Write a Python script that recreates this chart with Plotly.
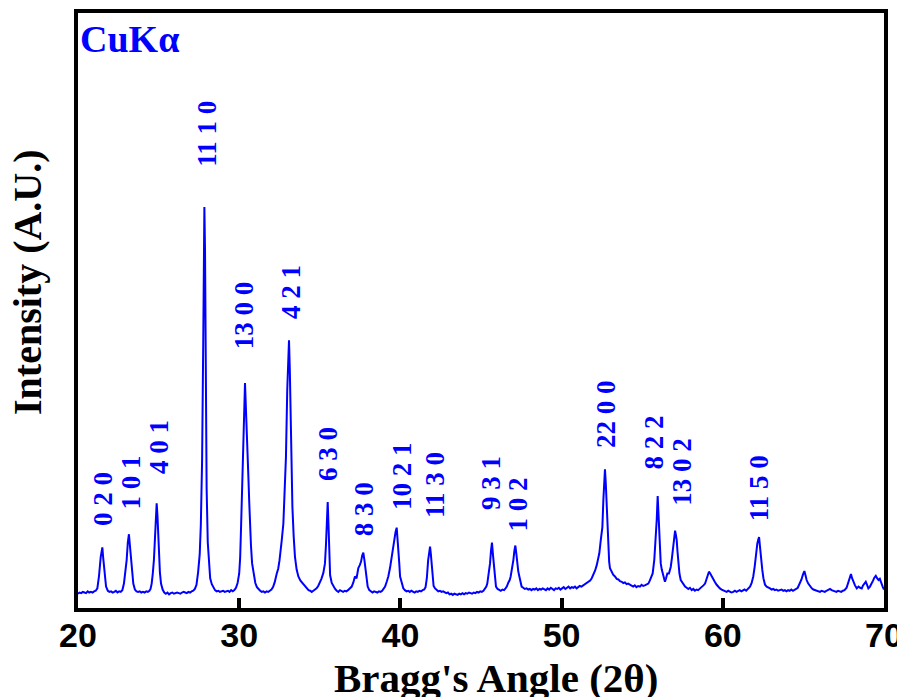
import plotly.graph_objects as go

# ---- XRD pattern (2-theta in degrees, intensity in arbitrary units) ----
two_theta = [
    20.0, 20.1, 20.2, 20.3, 20.4, 20.5, 20.6, 20.7, 20.8, 20.9, 21.0, 21.1,
    21.2, 21.3, 21.41, 21.46, 21.51, 21.56, 21.63, 21.74, 21.85,
    21.95, 22.05, 22.15, 22.25, 22.35, 22.45, 22.55, 22.65, 22.75,
    22.85, 22.94, 23.02, 23.09, 23.16, 23.22, 23.29, 23.36, 23.43, 23.53,
    23.63, 23.73, 23.83, 23.93, 24.03, 24.13, 24.23, 24.33, 24.43, 24.5,
    24.57, 24.64, 24.71, 24.78, 24.84, 24.88, 24.93, 24.97, 25.02, 25.08, 25.15, 25.25,
    25.35, 25.45, 25.55, 25.65, 25.75, 25.85, 25.95, 26.05, 26.15, 26.25, 26.35, 26.45,
    26.55, 26.65, 26.75, 26.85, 26.95, 27.05, 27.15, 27.25, 27.35,
    27.45, 27.55, 27.62, 27.7, 27.77, 27.84, 27.88, 27.93, 27.98, 28.05, 28.12, 28.2, 28.3, 28.4,
    28.5, 28.6, 28.7, 28.8, 28.9, 29.0, 29.1, 29.2, 29.3, 29.4, 29.5, 29.6,
    29.7, 29.8, 29.9, 30.0, 30.06, 30.12, 30.19, 30.26, 30.32, 30.36, 30.41, 30.46,
    30.52, 30.57, 30.62, 30.67, 30.73, 30.8, 30.9, 31.0, 31.1, 31.2, 31.3,
    31.4, 31.5, 31.6, 31.7, 31.8, 31.9, 32.0, 32.1, 32.2, 32.33, 32.42, 32.5,
    32.57, 32.64, 32.74, 32.82, 32.9, 32.98, 33.04, 33.09, 33.14, 33.19, 33.25, 33.3,
    33.38, 33.46, 33.56, 33.67, 33.8, 33.9, 33.98, 34.1, 34.2, 34.3, 34.4,
    34.5, 34.6, 34.7, 34.8, 34.9, 35.0, 35.1, 35.22, 35.32,
    35.38, 35.44, 35.49, 35.54, 35.59, 35.64, 35.74, 35.84, 35.95,
    36.05, 36.15, 36.25, 36.35, 36.45, 36.55, 36.65, 36.75, 36.85, 36.98,
    37.08, 37.18, 37.28, 37.39, 37.48, 37.56, 37.63, 37.7, 37.77, 37.84, 37.9, 37.97,
    38.07, 38.17, 38.27, 38.37, 38.47, 38.57, 38.67, 38.77, 38.87, 38.97,
    39.05, 39.15, 39.25, 39.36, 39.46, 39.55, 39.62, 39.7, 39.77, 39.82, 39.87, 39.93, 39.98, 40.08, 40.18,
    40.28, 40.38, 40.48, 40.58, 40.68, 40.78, 40.88, 40.98, 41.08, 41.18, 41.28, 41.38, 41.48,
    41.56, 41.64, 41.72, 41.79, 41.84, 41.89, 41.94, 42.0, 42.06, 42.15, 42.25,
    42.35, 42.45, 42.55, 42.65, 42.75, 42.85, 42.95, 43.05, 43.15, 43.25, 43.35, 43.45,
    43.55, 43.65, 43.75, 43.85, 43.95, 44.05, 44.15, 44.25, 44.35, 44.45, 44.55, 44.65,
    44.75, 44.85, 44.95, 45.05, 45.15, 45.25, 45.33, 45.39, 45.47, 45.56, 45.62, 45.68,
    45.74, 45.81, 45.87, 45.93, 46.03, 46.13, 46.23, 46.33, 46.43, 46.52, 46.6,
    46.7, 46.78, 46.84, 46.92, 47.01, 47.07, 47.13, 47.19, 47.25, 47.31, 47.38, 47.45, 47.52,
    47.62, 47.72, 47.83, 47.93, 48.03, 48.13, 48.23, 48.33, 48.43, 48.53, 48.63, 48.73,
    48.83, 48.93, 49.03, 49.13, 49.23, 49.33, 49.43, 49.53, 49.63, 49.73, 49.83, 49.93,
    50.03, 50.13, 50.23, 50.33, 50.43, 50.53, 50.63, 50.73, 50.83, 50.93, 51.03, 51.13,
    51.23, 51.33, 51.43, 51.53, 51.66, 51.77, 51.87, 51.97, 52.08, 52.18, 52.26, 52.34,
    52.43, 52.53, 52.59, 52.65, 52.69, 52.74, 52.8, 52.85, 52.9, 52.95, 53.0, 53.1,
    53.2, 53.31, 53.42, 53.52, 53.62, 53.73, 53.83, 53.93, 54.03, 54.13, 54.24, 54.34,
    54.44, 54.54, 54.64, 54.75, 54.86, 54.96, 55.06, 55.16, 55.27, 55.38, 55.47, 55.56,
    55.65, 55.75, 55.84, 55.9, 55.96, 56.0, 56.04, 56.1, 56.15, 56.21, 56.27, 56.34, 56.41, 56.48, 56.56,
    56.66, 56.77, 56.84, 56.9, 56.97, 57.04, 57.09, 57.14, 57.19, 57.24, 57.31, 57.39, 57.5, 57.58, 57.66,
    57.76, 57.86, 57.96, 58.07, 58.17, 58.27, 58.37, 58.47, 58.59, 58.7, 58.8, 58.9,
    58.98, 59.06, 59.14, 59.22, 59.31, 59.4, 59.5, 59.62, 59.72, 59.82, 59.93, 60.03,
    60.13, 60.24, 60.34, 60.44, 60.54, 60.65, 60.75, 60.85, 60.95, 61.05, 61.15, 61.25,
    61.35, 61.45, 61.55, 61.69, 61.79, 61.89, 61.98, 62.06, 62.14, 62.2, 62.25, 62.3,
    62.35, 62.4, 62.45, 62.52, 62.62, 62.72, 62.83, 62.93, 63.03, 63.13, 63.23, 63.33,
    63.43, 63.55, 63.65, 63.75, 63.85, 63.95, 64.05, 64.15, 64.25, 64.35, 64.45, 64.55,
    64.65, 64.79, 64.88, 64.97, 65.06, 65.13, 65.2, 65.3, 65.41, 65.52, 65.62, 65.72,
    65.82, 65.92, 66.03, 66.13, 66.23, 66.33, 66.43, 66.55, 66.65, 66.75, 66.85, 66.95,
    67.05, 67.15, 67.25, 67.35, 67.45, 67.55, 67.68, 67.79, 67.87, 67.95, 68.02, 68.1,
    68.2, 68.31, 68.42, 68.52, 68.62, 68.7, 68.79, 68.87, 68.95, 69.03, 69.13, 69.24,
    69.32, 69.4, 69.49, 69.57, 69.66, 69.74, 69.81, 69.87, 69.93, 70.0,
]

intensity = [
    2.4, 2.6, 2.5, 2.7, 2.6, 2.5, 2.8, 2.6, 2.7, 2.6, 2.8, 2.9,
    3.3, 5.3, 8.6, 9.8, 10.2, 8.5, 6.9, 3.6, 2.9,
    2.7, 2.8, 2.6, 2.7, 2.9, 2.6, 2.8, 2.7, 3.0,
    4.1, 5.8, 8.1, 11.0, 12.4, 10.5, 8.1, 5.8, 4.1, 3.1,
    2.8, 2.7, 2.8, 2.6, 2.7, 2.6, 2.8, 2.7, 2.9, 3.2,
    4.1, 5.8, 8.1, 12.0, 16.0, 17.6, 15.5, 12.0, 9.2, 6.0, 4.1, 3.1,
    2.6, 2.4, 2.6, 2.3, 2.5, 2.6, 2.4, 2.5, 2.6, 2.5, 2.4, 2.6,
    2.7, 2.6, 2.5, 2.7, 2.6, 2.8, 2.9, 3.2, 3.9,
    6.0, 9.0, 14.0, 25.0, 45.0, 67.4, 60.0, 35.0, 20.0, 11.0, 7.0, 5.0, 4.0, 3.4,
    3.0, 2.8, 2.9, 2.7, 2.8, 2.9, 2.7, 2.8, 2.9, 2.7, 3.0, 2.8,
    3.0, 3.4, 4.2, 5.8, 8.5, 14.0, 22.0, 31.0, 37.0, 37.8, 34.0, 29.0,
    24.0, 22.0, 18.0, 14.0, 10.5, 7.5, 5.5, 4.2, 3.5, 3.1, 2.9,
    2.7, 2.8, 2.6, 2.8, 2.7, 2.9, 3.1, 3.5, 4.3, 5.8, 6.6, 8.0,
    9.5, 11.4, 14.2, 19.0, 25.4, 36.6, 42.0, 45.0, 40.0, 31.0, 22.0, 17.0,
    12.0, 8.6, 6.5, 5.3, 4.6, 4.3, 4.1, 3.6, 3.3, 3.0, 2.9,
    2.7, 2.9, 3.1, 3.3, 3.7, 4.2, 4.9, 5.9, 7.5,
    10.5, 15.0, 17.8, 14.0, 8.5, 5.5, 4.2, 3.6, 3.2,
    2.9, 2.7, 3.0, 2.8, 2.7, 2.9, 2.8, 3.0, 3.2, 3.6,
    4.3, 5.3, 5.0, 6.7, 7.2, 7.8, 8.8, 9.3, 8.0, 6.4, 4.6, 3.6,
    3.0, 2.8, 2.6, 2.8, 2.7, 2.6, 2.8, 2.7, 2.9, 3.2,
    3.6, 4.4, 5.3, 6.8, 8.6, 10.5, 12.0, 12.8, 13.5, 12.0, 10.3, 7.5, 5.3, 4.0, 3.3,
    3.0, 2.8, 2.9, 2.7, 2.9, 2.8, 2.6, 2.8, 2.7, 2.9, 2.8, 3.0, 3.1,
    3.5, 5.0, 8.0, 9.8, 10.3, 9.0, 6.9, 4.6, 3.7, 3.3, 3.0,
    2.8, 2.9, 2.7, 2.8, 2.6, 2.5, 2.6, 2.3, 2.4, 2.2, 2.4, 2.3,
    2.2, 2.4, 2.3, 2.5, 2.3, 2.5, 2.4, 2.6, 2.5, 2.4, 2.6, 2.5,
    2.7, 2.6, 2.8, 2.7, 2.9, 3.3, 3.6, 4.1, 5.5, 7.5, 9.6, 11.0,
    9.0, 6.4, 4.6, 3.6, 3.2, 3.0, 2.9, 3.1, 3.0, 3.3, 3.6,
    4.3, 4.7, 5.3, 6.4, 8.1, 9.6, 10.5, 9.2, 7.5, 6.2, 5.3, 4.3, 3.6,
    3.4, 3.2, 3.3, 3.1, 3.2, 3.0, 3.2, 3.1, 3.3, 3.0, 3.2, 3.1,
    3.3, 3.2, 3.0, 3.3, 3.1, 3.4, 3.2, 3.0, 3.3, 3.2, 3.4, 3.1,
    3.3, 3.5, 3.2, 3.4, 3.6, 3.3, 3.5, 3.4, 3.6, 3.3, 3.5, 3.7,
    3.6, 3.8, 3.9, 4.1, 4.4, 4.6, 5.0, 5.5, 6.3, 7.2, 8.0, 9.2,
    11.4, 13.6, 18.1, 22.0, 23.3, 21.0, 17.0, 13.0, 9.7, 7.8, 6.7, 6.0,
    5.6, 5.3, 4.9, 4.8, 4.5, 4.4, 4.2, 4.3, 4.0, 4.1, 3.9, 3.8,
    3.6, 3.8, 3.5, 3.7, 3.6, 3.9, 3.7, 3.8, 4.0, 4.1, 4.6, 5.2,
    5.8, 8.1, 11.4, 14.8, 18.8, 16.0, 13.1, 10.0, 7.5, 6.5, 5.8, 5.0, 4.4, 5.0, 5.8,
    5.8, 6.9, 8.3, 9.7, 11.8, 13.0, 12.3, 11.4, 9.5, 7.5, 5.8, 4.7, 4.2, 3.9, 3.6,
    3.4, 3.2, 3.4, 3.0, 3.2, 2.9, 3.1, 3.0, 3.3, 3.5, 3.8, 4.1,
    4.8, 5.6, 6.1, 5.8, 5.3, 5.0, 4.4, 3.9, 3.5, 3.3, 3.1, 3.0,
    2.8, 2.7, 2.9, 2.8, 2.6, 2.7, 2.9, 2.7, 2.8, 3.0, 2.8, 2.9,
    3.1, 2.9, 3.2, 3.6, 4.2, 5.3, 7.0, 9.2, 10.8, 11.5, 11.9, 10.5,
    8.6, 7.2, 6.4, 5.0, 3.9, 3.6, 3.5, 3.3, 3.1, 3.2, 3.0, 3.1,
    2.9, 3.0, 3.1, 2.9, 3.0, 2.8, 3.0, 2.9, 3.1, 2.9, 3.0, 3.2,
    3.4, 4.1, 4.8, 5.6, 6.2, 5.5, 4.7, 4.1, 3.6, 3.3, 3.1, 3.0,
    2.9, 2.8, 2.7, 2.9, 2.8, 2.7, 2.9, 3.0, 3.2, 3.0, 2.9, 2.8,
    2.7, 2.9, 2.8, 2.7, 2.9, 3.0, 3.4, 4.4, 5.2, 5.7, 5.0, 4.4,
    3.8, 3.3, 3.6, 3.4, 3.3, 3.8, 4.1, 4.4, 3.9, 3.3, 3.6, 4.1,
    4.6, 5.1, 5.4, 5.0, 4.7, 4.9, 4.3, 3.9, 3.5, 3.1,
]

# ---- reflection (hkl) labels ----
peak_labels = ["0 2 0", "1 0 1", "4 0 1", "11 1 0", "13 0 0", "4 2 1", "6 3 0", "8 3 0",
               "10 2 1", "11 3 0", "9 3 1", "1 0 2", "22 0 0", "8 2 2", "13 0 2", "11 5 0"]
label_theta = [21.55, 23.26, 25.07, 28.0, 30.30, 33.24, 35.54, 37.71,
               40.10, 42.18, 45.62, 47.30, 52.75, 55.73, 57.50, 62.21]
label_level = [18.3, 21.0, 27.0, 79.7, 49.2, 53.2, 25.8, 16.7,
               22.2, 20.6, 21.0, 17.4, 32.6, 27.8, 22.8, 20.2]

x_ticks = [20, 30, 40, 50, 60, 70]

assert len(two_theta) == len(intensity)

BLUE = "#0000FF"
SERIF = "Liberation Serif, Times New Roman, serif"
SANS = "Liberation Sans, Arial, sans-serif"

fig = go.Figure()
fig.add_trace(go.Scatter(x=two_theta, y=intensity, mode="lines",
                         line=dict(color=BLUE, width=2), hoverinfo="skip"))

annotations = []
for lab, lx, ly in zip(peak_labels, label_theta, label_level):
    annotations.append(dict(x=lx, y=ly, xref="x", yref="y", text="<b>" + lab + "</b>",
                            textangle=-90, showarrow=False, xanchor="center", yanchor="middle",
                            font=dict(family=SERIF, size=27, color=BLUE)))

annotations.append(dict(x=0.0, y=0.995, xref="paper", yref="paper", text="<b>CuKα</b>",
                        showarrow=False, xanchor="left", yanchor="top",
                        font=dict(family=SERIF, size=38, color=BLUE)))
annotations.append(dict(x=0.5186, y=-0.076, xref="paper", yref="paper",
                        text="<b>Bragg's Angle (2θ)</b>", showarrow=False,
                        xanchor="center", yanchor="top",
                        font=dict(family=SERIF, size=41, color="black")))
annotations.append(dict(x=-0.062, y=0.548, xref="paper", yref="paper",
                        text="<b>Intensity (A.U.)</b>", textangle=-90, showarrow=False,
                        xanchor="center", yanchor="middle",
                        font=dict(family=SERIF, size=40, color="black")))

# the page body adds an 8 px offset, so the figure is 8 px smaller than the window
fig.update_layout(
    width=897, height=689,
    margin=dict(l=70, r=21, t=5, b=89, autoexpand=False),
    plot_bgcolor="white", paper_bgcolor="white",
    showlegend=False,
    annotations=annotations,
)
fig.update_xaxes(range=[20, 70], tickmode="array", tickvals=x_ticks,
                 ticktext=["<b>%d</b>" % t for t in x_ticks],
                 ticks="inside", ticklen=10, tickwidth=4, tickcolor="black",
                 ticklabelstandoff=-6,
                 showline=True, linewidth=4, linecolor="black", mirror=True,
                 showgrid=False, zeroline=False, automargin=False,
                 tickfont=dict(family=SANS, size=34, color="black"))
fig.update_yaxes(range=[0, 100], showticklabels=False, ticks="",
                 showline=True, linewidth=4, linecolor="black", mirror=True,
                 showgrid=False, zeroline=False, automargin=False)

fig.write_html("out.html")
